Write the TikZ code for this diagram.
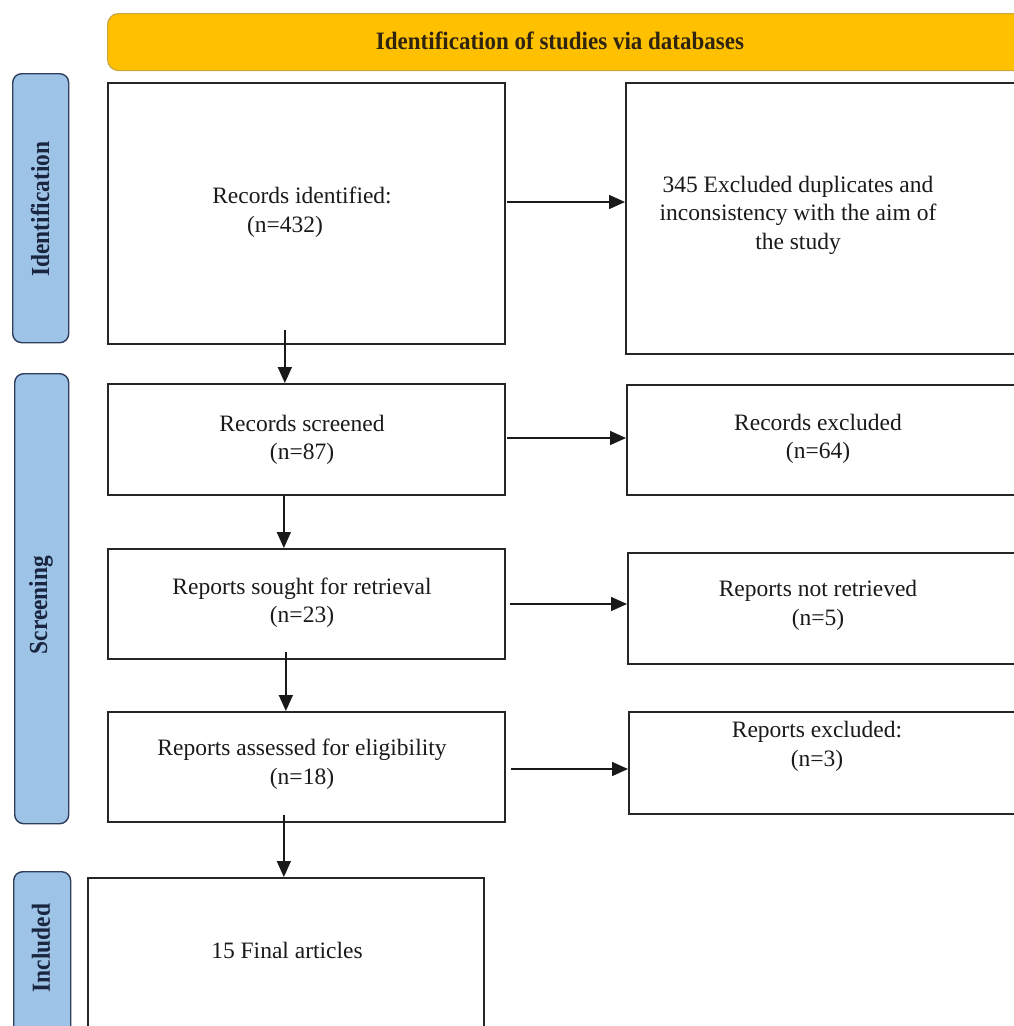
\documentclass[tikz,border=0pt]{standalone}
\usepackage{fontspec}
\setmainfont{Liberation Serif}
\usetikzlibrary{arrows.meta}
\definecolor{hdrfill}{HTML}{FFC000}
\definecolor{hdrdraw}{HTML}{C8A640}
\definecolor{sidefill}{HTML}{9DC3E6}
\definecolor{sidedraw}{HTML}{2F3E5C}
\definecolor{sidetext}{HTML}{1A2540}
\definecolor{titletext}{HTML}{2E2410}
\definecolor{bodytext}{HTML}{1A1A1A}
\tikzset{
  box/.style={draw=black!85, line width=1.7pt, fill=white, inner sep=0pt, anchor=north west},
  sidebox/.style={draw=sidedraw, fill=sidefill, line width=1.4pt, rounded corners=9pt, inner sep=0pt, anchor=north west},
  hdrbox/.style={draw=hdrdraw, fill=hdrfill, line width=1.2pt, rounded corners=11pt, inner sep=0pt, anchor=north west},
  txt/.style={align=center, inner sep=0pt, text=bodytext, font=\fontsize{23.5}{28.5}\selectfont},
  sidetxt/.style={inner sep=0pt, rotate=90, text=sidetext, font=\bfseries\fontsize{26}{30}\selectfont},
  arr/.style={line width=1.6pt, draw=black!90, -{Triangle[length=16pt,width=14pt]}},
}
\begin{document}
\begin{tikzpicture}[x=1pt,y=-1pt]
\useasboundingbox (0,0) rectangle (1014,1026);
\clip (0,0) rectangle (1014,1026);
\fill[white] (0,0) rectangle (1014,1026);

% header
\node[hdrbox, minimum width=930pt, minimum height=57pt] (hdr) at (107,13) {};
\node[inner sep=0pt, text=titletext, font=\bfseries\fontsize{25}{30}\selectfont] (hdrt) at (560,41) {\scalebox{0.92}[1]{Identification of studies via databases}};

% side labels
\node[sidebox, minimum width=56pt, minimum height=269pt] (s1) at (12,73) {};
\node[sidetxt] (s1t) at (40,209) {\scalebox{0.9}[1]{Identification}};
\node[sidebox, minimum width=54pt, minimum height=450pt] (s2) at (14,373) {};
\node[sidetxt] (s2t) at (41,605) {\scalebox{0.9}[1]{Screening}};
\node[sidebox, minimum width=57pt, minimum height=180pt] (s3) at (13,871) {};
\node[sidetxt] (s3t) at (41,948) {\scalebox{0.9}[1]{Included}};

% left column
\node[box, minimum width=397pt, minimum height=261pt] (idf) at (107,82) {};
\node[txt] (idft) at (302,212) {Records identified:\\(n=432)\hspace*{34pt}};
\node[box, minimum width=397pt, minimum height=111pt] (scr) at (107,383) {};
\node[txt] (scrt) at (302,440) {Records screened\\(n=87)};
\node[box, minimum width=397pt, minimum height=110pt] (sgt) at (107,548) {};
\node[txt] (sgtt) at (302,602.5) {Reports sought for retrieval\\(n=23)};
\node[box, minimum width=397pt, minimum height=110pt] (asd) at (107,711) {};
\node[txt] (asdt) at (302,764) {Reports assessed for eligibility\\(n=18)};
\node[box, minimum width=396pt, minimum height=180pt] (fin) at (87,877) {};
\node[txt] (fint) at (287,950) {15 Final articles};

% right column
\node[box, minimum width=410pt, minimum height=271pt] (dup) at (625,82) {};
\node[txt] (dupt) at (798,215) {345 Excluded duplicates and\\inconsistency with the aim of\\the study};
\node[box, minimum width=410pt, minimum height=110pt] (rex) at (626,384) {};
\node[txt] (rext) at (818,439) {Records excluded\\(n=64)};
\node[box, minimum width=410pt, minimum height=111pt] (nret) at (627,552) {};
\node[txt] (nrett) at (818,605.5) {Reports not retrieved\\(n=5)};
\node[box, minimum width=410pt, minimum height=102pt] (repx) at (628,711) {};
\node[txt] (repxt) at (817,746.5) {Reports excluded:\\(n=3)};

% vertical arrows
\draw[arr] ([xshift=-21.5pt,yshift=15pt]idf.south) -- ([xshift=-21.5pt]idf.south |- scr.north);
\draw[arr] ([xshift=-22.5pt]scr.south) -- ([xshift=-22.5pt]scr.south |- sgt.north);
\draw[arr] ([xshift=-20.5pt,yshift=8pt]sgt.south) -- ([xshift=-20.5pt]sgt.south |- asd.north);
\draw[arr] ([xshift=-22.5pt,yshift=8pt]asd.south) -- ([xshift=-22.5pt]asd.south |- fin.north);

% horizontal arrows
\draw[arr] ([xshift=1pt]idf.east |- 0,202) -- (dup.west |- 0,202);
\draw[arr] ([xshift=1pt]scr.east |- 0,438) -- (rex.west |- 0,438);
\draw[arr] ([xshift=4pt]sgt.east |- 0,604) -- (nret.west |- 0,604);
\draw[arr] ([xshift=5pt]asd.east |- 0,769) -- (repx.west |- 0,769);
\end{tikzpicture}
\end{document}
